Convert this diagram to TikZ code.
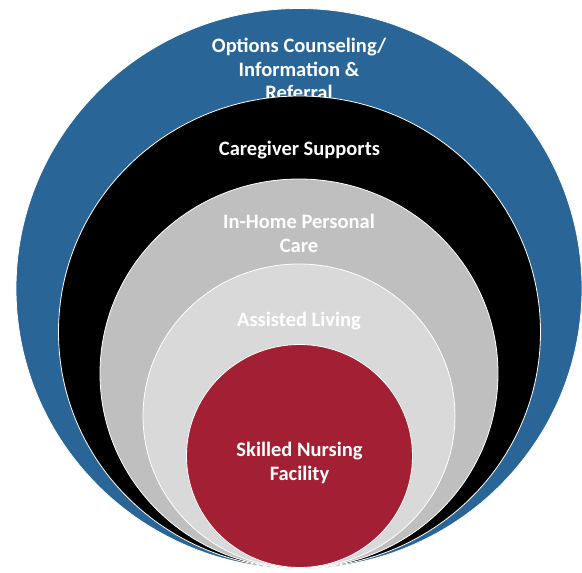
\documentclass[tikz,border=0pt]{standalone}
\usepackage{fontspec}
\setmainfont{Carlito}
\definecolor{ringblue}{HTML}{2A6598}
\definecolor{ringblack}{HTML}{000000}
\definecolor{ringgray}{HTML}{BFBFBF}
\definecolor{ringlight}{HTML}{D9D9D9}
\definecolor{ringred}{HTML}{A31F34}

\begin{document}
\begin{tikzpicture}[
x=1pt,y=-1pt,
ring/.style={
	draw=white,
	line width=0.8pt
},
ringtext/.style={
	text=white,
	align=center,
	font=\fontsize{20.5}{23.5}\selectfont\bfseries
}
]
\useasboundingbox (0,0) rectangle (582,573);

% rings from the outside in, each label before the next ring
\foreach \i/\col/\cx/\cy/\rx/\ry/\ty/\txt in {
	1/ringblue/299/288.5/283/280/69/{Options Counseling/\\Information \&\\Referral},
	2/ringblack/299.5/332/241/236/150/{Caregiver Supports},
	3/ringgray/299/373.5/199/194.5/233.5/{In-Home Personal\\Care},
	4/ringlight/299/416/156/152/321/{Assisted Living},
	5/ringred/299.5/456/113/111.5/463/{Skilled Nursing\\Facility}}
{
\filldraw[ring,fill=\col] (\cx,\cy) ellipse [x radius=\rx,y radius=\ry];
\node[ringtext] (label\i) at (\cx,\ty) {\txt};
}
\end{tikzpicture}
\end{document}
